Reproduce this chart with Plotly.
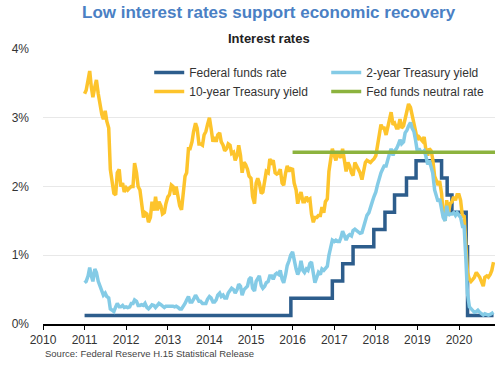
import pandas as pd
import plotly.graph_objects as go

# Semi-monthly observation dates (1st and 15th), plus a final late-October reading
dates = list(pd.date_range("2011-01-01", "2020-10-15", freq="SMS")) + [pd.Timestamp("2020-10-30")]

ten_year = [
    # 2011
    3.35, 3.40, 3.55, 3.68, 3.45, 3.30, 3.45, 3.55, 3.35, 3.20, 3.05, 2.98,
    3.10, 2.95, 2.85, 2.25, 2.05, 1.90, 1.88, 2.20, 2.25, 2.00, 2.05, 1.92,
    # 2012
    1.98, 1.95, 1.98, 2.00, 2.00, 2.34, 2.20, 2.00, 1.95, 1.78, 1.55, 1.62,
    1.60, 1.48, 1.55, 1.78, 1.65, 1.85, 1.65, 1.78, 1.72, 1.60, 1.62, 1.75,
    # 2013
    1.85, 1.88, 2.02, 2.00, 1.88, 2.00, 1.85, 1.72, 1.66, 1.95, 2.15, 2.20,
    2.55, 2.55, 2.65, 2.80, 2.92, 2.85, 2.62, 2.62, 2.60, 2.75, 2.80, 2.90,
    # 2014
    3.00, 2.85, 2.65, 2.72, 2.65, 2.75, 2.78, 2.65, 2.60, 2.52, 2.55, 2.62,
    2.60, 2.48, 2.50, 2.38, 2.45, 2.60, 2.45, 2.20, 2.35, 2.32, 2.25, 2.15,
    # 2015
    2.12, 1.85, 1.75, 2.05, 2.12, 2.05, 1.90, 1.92, 2.12, 2.22, 2.20, 2.40,
    2.35, 2.38, 2.20, 2.18, 2.20, 2.25, 2.05, 2.02, 2.20, 2.30, 2.22, 2.26,
    # 2016
    2.25, 2.05, 1.95, 1.75, 1.85, 1.92, 1.78, 1.78, 1.85, 1.80, 1.82, 1.60,
    1.48, 1.55, 1.55, 1.58, 1.58, 1.70, 1.62, 1.78, 1.82, 2.22, 2.40, 2.55,
    # 2017
    2.45, 2.38, 2.48, 2.45, 2.42, 2.55, 2.35, 2.22, 2.35, 2.30, 2.20, 2.16,
    2.35, 2.30, 2.26, 2.20, 2.10, 2.22, 2.35, 2.38, 2.36, 2.35, 2.38, 2.40,
    # 2018
    2.45, 2.58, 2.80, 2.90, 2.85, 2.85, 2.75, 2.85, 2.95, 3.08, 2.90, 2.92,
    2.85, 2.85, 2.98, 2.85, 2.88, 3.00, 3.08, 3.20, 3.15, 3.05, 2.95, 2.82,
    # 2019
    2.68, 2.72, 2.68, 2.66, 2.72, 2.55, 2.45, 2.55, 2.52, 2.40, 2.15, 2.08,
    2.02, 2.08, 1.90, 1.60, 1.50, 1.80, 1.62, 1.75, 1.78, 1.85, 1.80, 1.88,
    # 2020
    1.88, 1.80, 1.55, 1.58, 1.10, 0.75, 0.65, 0.62, 0.65, 0.68, 0.75, 0.72,
    0.68, 0.62, 0.55, 0.68, 0.70, 0.68, 0.72, 0.78, 0.90,
]

two_year = [
    # 2011
    0.60, 0.62, 0.70, 0.82, 0.70, 0.62, 0.80, 0.75, 0.62, 0.55, 0.48, 0.42,
    0.45, 0.40, 0.38, 0.22, 0.20, 0.18, 0.25, 0.30, 0.25, 0.25, 0.27, 0.24,
    # 2012
    0.25, 0.24, 0.25, 0.30, 0.30, 0.35, 0.33, 0.27, 0.27, 0.28, 0.27, 0.30,
    0.24, 0.22, 0.25, 0.28, 0.27, 0.24, 0.27, 0.30, 0.28, 0.26, 0.24, 0.26,
    # 2013
    0.26, 0.27, 0.27, 0.26, 0.25, 0.26, 0.24, 0.22, 0.22, 0.25, 0.30, 0.35,
    0.40, 0.32, 0.32, 0.36, 0.42, 0.38, 0.33, 0.33, 0.30, 0.30, 0.30, 0.36,
    # 2014
    0.40, 0.38, 0.32, 0.32, 0.35, 0.42, 0.45, 0.40, 0.42, 0.38, 0.38, 0.45,
    0.48, 0.52, 0.50, 0.45, 0.50, 0.58, 0.55, 0.42, 0.50, 0.52, 0.55, 0.65,
    # 2015
    0.68, 0.52, 0.48, 0.62, 0.65, 0.70, 0.56, 0.52, 0.55, 0.60, 0.62, 0.70,
    0.70, 0.65, 0.72, 0.74, 0.72, 0.78, 0.65, 0.60, 0.72, 0.85, 0.92, 1.00,
    # 2016
    1.05, 0.90, 0.80, 0.72, 0.78, 0.92, 0.78, 0.75, 0.80, 0.78, 0.88, 0.90,
    0.72, 0.60, 0.68, 0.75, 0.72, 0.80, 0.78, 0.80, 0.84, 1.00, 1.10, 1.22,
    # 2017
    1.20, 1.22, 1.20, 1.20, 1.26, 1.35, 1.28, 1.22, 1.28, 1.30, 1.28, 1.36,
    1.38, 1.36, 1.35, 1.32, 1.33, 1.40, 1.50, 1.58, 1.62, 1.72, 1.78, 1.85,
    # 2018
    1.92, 2.02, 2.15, 2.20, 2.25, 2.30, 2.30, 2.40, 2.48, 2.55, 2.45, 2.52,
    2.55, 2.60, 2.68, 2.62, 2.65, 2.78, 2.82, 2.88, 2.93, 2.85, 2.80, 2.68,
    # 2019
    2.50, 2.55, 2.50, 2.50, 2.52, 2.45, 2.32, 2.38, 2.30, 2.20, 1.95, 1.85,
    1.78, 1.82, 1.70, 1.55, 1.50, 1.72, 1.58, 1.60, 1.60, 1.62, 1.58, 1.62,
    # 2020
    1.58, 1.55, 1.42, 1.42, 0.95, 0.45, 0.25, 0.22, 0.20, 0.17, 0.18, 0.20,
    0.17, 0.15, 0.13, 0.15, 0.14, 0.13, 0.14, 0.15, 0.17,
]

# Federal funds target-range midpoint, at each change date
ff_dates = ["2011-01-01", "2015-12-17", "2016-12-15", "2017-03-16", "2017-06-15",
            "2017-12-14", "2018-03-22", "2018-06-14", "2018-09-27", "2018-12-20",
            "2019-08-01", "2019-09-19", "2019-10-31", "2020-03-04", "2020-03-16",
            "2020-10-30"]
ff_rate = [0.125, 0.375, 0.625, 0.875, 1.125, 1.375, 1.625, 1.875, 2.125, 2.375,
           2.125, 1.875, 1.625, 1.125, 0.125, 0.125]

neutral_dates = ["2016-01-01", "2020-11-12"]
neutral_rate = [2.5, 2.5]

year_ticks = [f"{y}-01-01" for y in range(2010, 2021)]
year_labels = [str(y) for y in range(2010, 2021)]
y_ticks = [0, 1, 2, 3, 4]
y_labels = ["0%", "1%", "2%", "3%", "4%"]

C_FF = "#2d5d8c"
C_2Y = "#84cbe6"
C_10Y = "#fdc42c"
C_NEU = "#8cb33e"
FONT = "Liberation Sans, Arial, sans-serif"

fig = go.Figure()
fig.add_trace(go.Scatter(x=ff_dates, y=ff_rate, mode="lines", line_shape="hv",
                         name="Federal funds rate", line=dict(color=C_FF, width=3.5),
                         legendrank=1))
fig.add_trace(go.Scatter(x=dates, y=ten_year, mode="lines", name="10-year Treasury yield",
                         line=dict(color=C_10Y, width=3.5), legendrank=3))
fig.add_trace(go.Scatter(x=dates, y=two_year, mode="lines", name="2-year Treasury yield",
                         line=dict(color=C_2Y, width=3.5), legendrank=2))
fig.add_trace(go.Scatter(x=neutral_dates, y=neutral_rate, mode="lines",
                         name="Fed funds neutral rate", line=dict(color=C_NEU, width=3.5),
                         legendrank=4))

fig.update_layout(
    width=500, height=365,
    margin=dict(l=43, r=5, t=49, b=41, autoexpand=False),
    plot_bgcolor="white", paper_bgcolor="white",
    font=dict(family=FONT, size=12, color="#333333"),
    showlegend=True,
    legend=dict(orientation="h", x=0.235, xanchor="left", y=0.967, yanchor="top",
                entrywidth=132, entrywidthmode="pixels",
                font=dict(size=12, color="#333333"), bgcolor="rgba(0,0,0,0)",
                tracegroupgap=0, itemwidth=30),
    xaxis=dict(type="date", range=["2010-01-01", "2020-11-12"],
               tickvals=year_ticks, ticktext=year_labels, automargin=False,
               showgrid=False, showline=True, linecolor="black", linewidth=1.5,
               ticks="outside", ticklen=4, tickcolor="black", tickwidth=1,
               tickfont=dict(size=12, color="#333333"), zeroline=False),
    yaxis=dict(range=[0, 4], tickvals=y_ticks, ticktext=y_labels, automargin=False,
               showgrid=True, gridcolor="#e8e8e8", gridwidth=1,
               zeroline=False, showline=False, ticks="",
               ticklabelstandoff=13,
               tickfont=dict(size=12, color="#333333")),
    annotations=[
        dict(text="<b>Low interest rates support economic recovery</b>", xref="paper",
             yref="paper", x=0.5, y=1.0, yshift=37, xanchor="center", yanchor="middle",
             showarrow=False, font=dict(size=17, color="#4a80c4", family=FONT)),
        dict(text="<b>Interest rates</b>", xref="paper", yref="paper", x=0.5, y=1.0,
             yshift=11, xanchor="center", yanchor="middle", showarrow=False,
             font=dict(size=13, color="#222222", family=FONT)),
        dict(text="Source: Federal Reserve H.15 Statistical Release", xref="paper",
             yref="paper", x=0.0, y=0.0, yshift=-29, xanchor="left", yanchor="middle",
             showarrow=False, font=dict(size=9.5, color="#444444", family=FONT)),
    ],
)

fig.write_html("out.html", config={"displayModeBar": False},
               post_script="document.body.style.margin='0';document.body.style.overflow='hidden';")
